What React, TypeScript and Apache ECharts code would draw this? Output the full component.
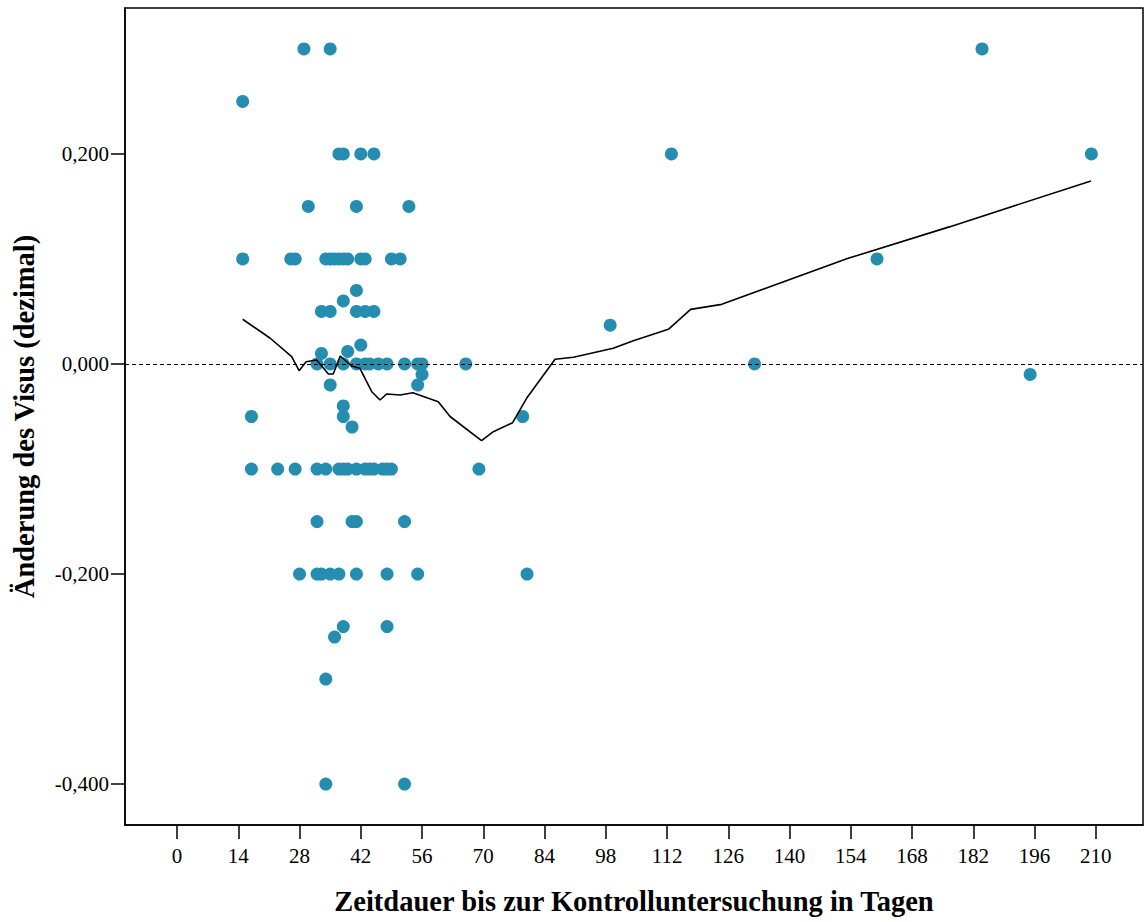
import React, { useEffect, useRef } from "react";
import * as echarts from "echarts";

const xTicks = [0, 14, 28, 42, 56, 70, 84, 98, 112, 126, 140, 154, 168, 182, 196, 210];
const yTicks = [-0.4, -0.2, 0, 0.2];

// scatter: days, change in visus
const scatterDays = [
  29, 35, 184,
  15,
  37, 38, 42, 45, 113, 209,
  30, 41, 53,
  15, 26, 27, 34, 35, 36, 37, 38, 39, 42, 43, 49, 51, 160,
  41,
  38,
  33, 35, 41, 43, 45,
  99,
  42,
  39,
  33,
  32, 35, 38, 41, 43, 44, 46, 48, 52, 55, 56, 66, 132,
  56, 195,
  55, 35,
  38,
  17, 38, 79,
  40,
  17, 23, 27, 32, 34, 37, 38, 39, 41, 43, 44, 45, 47, 48, 49, 69,
  32, 40, 41, 52,
  28, 32, 33, 35, 37, 41, 48, 55, 80,
  38, 48,
  36,
  34,
  34, 52,
];
const scatterValues = [
  0.3, 0.3, 0.3,
  0.25,
  0.2, 0.2, 0.2, 0.2, 0.2, 0.2,
  0.15, 0.15, 0.15,
  0.1, 0.1, 0.1, 0.1, 0.1, 0.1, 0.1, 0.1, 0.1, 0.1, 0.1, 0.1, 0.1, 0.1,
  0.07,
  0.06,
  0.05, 0.05, 0.05, 0.05, 0.05,
  0.037,
  0.018,
  0.012,
  0.01,
  0, 0, 0, 0, 0, 0, 0, 0, 0, 0, 0, 0, 0,
  -0.01, -0.01,
  -0.02, -0.02,
  -0.04,
  -0.05, -0.05, -0.05,
  -0.06,
  -0.1, -0.1, -0.1, -0.1, -0.1, -0.1, -0.1, -0.1, -0.1, -0.1, -0.1, -0.1, -0.1, -0.1, -0.1, -0.1,
  -0.15, -0.15, -0.15, -0.15,
  -0.2, -0.2, -0.2, -0.2, -0.2, -0.2, -0.2, -0.2, -0.2,
  -0.25, -0.25,
  -0.26,
  -0.3,
  -0.4, -0.4,
];

// loess fit line
const loessDays = [
  15.0, 21.3, 26.2, 27.9, 29.5, 31.9, 34.6, 35.7, 37.3, 39.9, 41.8, 44.5, 46.4, 47.9,
  51.0, 53.9, 59.7, 62.4, 69.6, 72.3, 76.7, 79.9, 86.4, 90.6, 99.7, 104.3, 112.3,
  117.4, 124.5, 153.4, 176.7, 208.9,
];
const loessValues = [
  0.0426, 0.0245, 0.007, -0.0064, 0.0022, 0.0038, -0.0095, -0.0095, 0.0076, -0.0019,
  -0.0041, -0.0264, -0.0343, -0.0286, -0.0295, -0.0273, -0.0359, -0.05, -0.073,
  -0.0645, -0.0559, -0.0327, 0.0045, 0.0064, 0.015, 0.0222, 0.033, 0.052, 0.0568,
  0.1006, 0.1308, 0.1743,
];

const FONT = "'Liberation Serif', 'Times New Roman', serif";

export default function App() {
  const ref = useRef<HTMLDivElement>(null);
  useEffect(() => {
    if (!ref.current) return;
    const chart = echarts.init(ref.current, null, { renderer: "svg" });
    const scatterData = scatterDays.map((d, i) => [d, scatterValues[i]]);
    const loessData = loessDays.map((d, i) => [d, loessValues[i]]);
    chart.setOption({
      animation: false,
      backgroundColor: "#ffffff",
      grid: {
        left: 125,
        top: 8,
        right: 1,
        bottom: 97,
        show: true,
        borderColor: "#000",
        borderWidth: 1.5,
      },
      xAxis: {
        type: "value",
        min: -11.9,
        max: 220.8,
        name: "Zeitdauer bis zur Kontrolluntersuchung in Tagen",
        nameLocation: "middle",
        nameGap: 62,
        nameTextStyle: { fontFamily: FONT, fontSize: 28.5, fontWeight: "bold", color: "#000" },
        axisLine: { show: true, onZero: false, lineStyle: { color: "#000", width: 1.5 } },
        axisTick: { show: true, length: 14, customValues: xTicks, lineStyle: { color: "#000", width: 1.5 } },
        axisLabel: {
          customValues: xTicks,
          margin: 20,
          fontFamily: FONT,
          fontSize: 21,
          color: "#000",
        },
        splitLine: { show: false },
      },
      yAxis: {
        type: "value",
        min: -0.439,
        max: 0.339,
        name: "Änderung des Visus (dezimal)",
        nameLocation: "middle",
        nameGap: 86,
        nameRotate: 90,
        nameTextStyle: { fontFamily: FONT, fontSize: 28.5, fontWeight: "bold", color: "#000" },
        axisLine: { show: true, onZero: false, lineStyle: { color: "#000", width: 1.5 } },
        axisTick: { show: true, length: 14, customValues: yTicks, lineStyle: { color: "#000", width: 1.5 } },
        axisLabel: {
          customValues: yTicks,
          margin: 16,
          fontFamily: FONT,
          fontSize: 21,
          color: "#000",
          formatter: (v: number) => v.toFixed(3).replace(".", ","),
        },
        splitLine: { show: false },
      },
      series: [
        {
          type: "scatter",
          data: scatterData,
          symbol: "circle",
          symbolSize: 13,
          itemStyle: { color: "#258eb0", opacity: 1 },
          z: 3,
          markLine: {
            silent: true,
            symbol: "none",
            label: { show: false },
            lineStyle: { color: "#000", width: 1, type: [4, 3] },
            data: [{ yAxis: 0 }],
          },
        },
        {
          type: "line",
          data: loessData,
          showSymbol: false,
          smooth: false,
          lineStyle: { color: "#000", width: 1.6 },
          z: 4,
        },
      ],
    });
    return () => chart.dispose();
  }, []);
  return (
    <div
      ref={ref}
      style={{ position: "fixed", left: 0, top: 0, width: 1144, height: 922 }}
    />
  );
}
